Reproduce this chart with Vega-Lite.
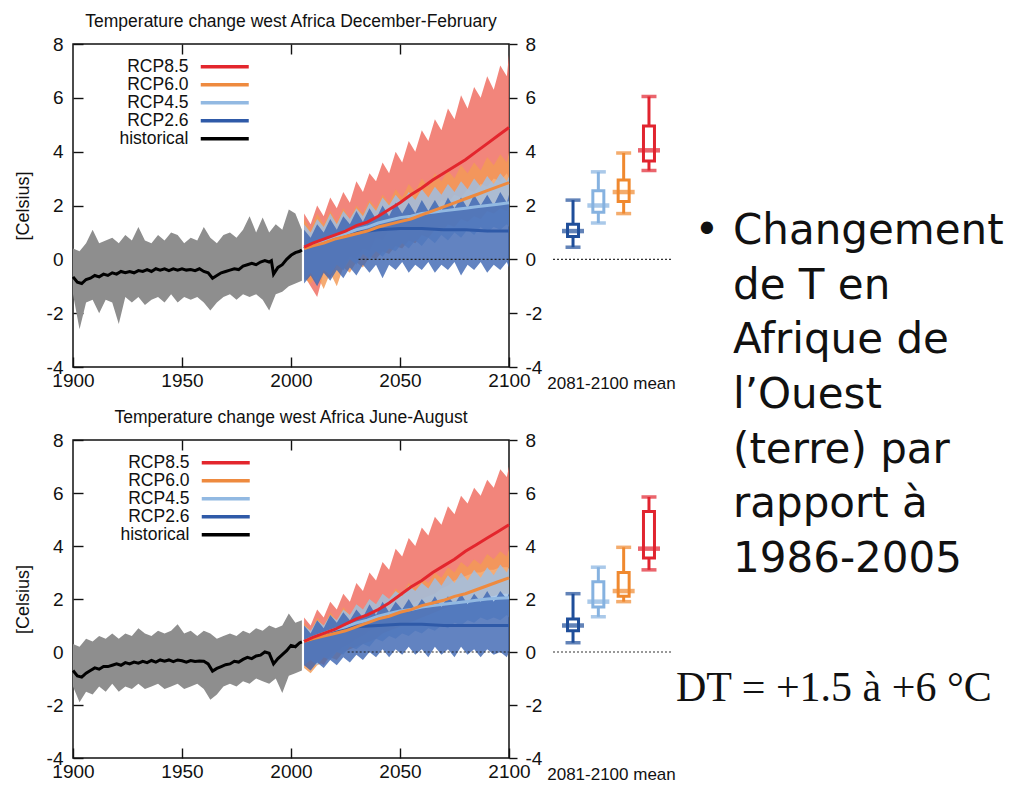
{
"$schema":"https://vega.github.io/schema/vega-lite/v6.json",
"background":"white",
"padding":{"left":13,"top":11,"right":0,"bottom":0},
"spacing":0,
"config":{
 "locale":{"number":{"decimal":".","thousands":",","grouping":[3],"currency":["$",""],"minus":"-"}},
 "view":{"stroke":"#111","strokeWidth":1.5},
 "axis":{"labelFont":"Liberation Sans","labelFontSize":19,"labelColor":"#111","titleFont":"Liberation Sans","titleFontSize":18,"titleFontWeight":"normal","titleColor":"#111","tickColor":"#111","tickWidth":1.4,"grid":false,"domain":false},
 "title":{"font":"Liberation Sans","fontSize":17.5,"fontWeight":"normal","color":"#111","offset":5,"anchor":"middle"}
},
"datasets":{
 "histD":[
  {"x":1900,"l":-1.3,"h":0.4},{"x":1903,"l":-2.6,"h":0.3},{"x":1906,"l":-1.6,"h":0.6},{"x":1909,"l":-1.5,"h":1.1},{"x":1912,"l":-2.0,"h":0.6},{"x":1915,"l":-1.5,"h":0.7},{"x":1918,"l":-1.6,"h":0.8},{"x":1921,"l":-2.4,"h":0.6},{"x":1924,"l":-1.4,"h":0.9},{"x":1927,"l":-1.6,"h":0.7},{"x":1930,"l":-1.4,"h":1.2},{"x":1933,"l":-1.7,"h":0.7},{"x":1936,"l":-1.5,"h":0.6},{"x":1939,"l":-1.4,"h":0.9},{"x":1942,"l":-1.6,"h":0.7},{"x":1945,"l":-1.3,"h":1.0},{"x":1948,"l":-1.6,"h":0.9},{"x":1951,"l":-1.4,"h":0.6},{"x":1954,"l":-1.5,"h":0.8},{"x":1957,"l":-1.4,"h":0.7},{"x":1960,"l":-1.6,"h":1.2},{"x":1963,"l":-1.9,"h":0.8},{"x":1966,"l":-1.6,"h":0.6},{"x":1969,"l":-1.4,"h":0.9},{"x":1972,"l":-1.3,"h":1.0},{"x":1975,"l":-1.5,"h":0.8},{"x":1978,"l":-1.3,"h":1.1},{"x":1981,"l":-1.4,"h":1.6},{"x":1984,"l":-1.3,"h":1.0},{"x":1987,"l":-1.5,"h":1.55},{"x":1990,"l":-1.9,"h":1.0},{"x":1993,"l":-1.3,"h":1.3},{"x":1996,"l":-1.2,"h":1.1},{"x":1999,"l":-1.0,"h":1.85},{"x":2002,"l":-0.9,"h":1.7},{"x":2005,"l":-0.8,"h":1.1}
 ],
 "histJ":[
  {"x":1900,"l":-1.3,"h":0.3},{"x":1903,"l":-1.9,"h":0.2},{"x":1906,"l":-1.5,"h":0.5},{"x":1909,"l":-1.6,"h":0.4},{"x":1912,"l":-1.3,"h":0.6},{"x":1915,"l":-1.5,"h":0.5},{"x":1918,"l":-1.2,"h":0.7},{"x":1921,"l":-1.5,"h":0.5},{"x":1924,"l":-1.3,"h":0.7},{"x":1927,"l":-1.4,"h":0.6},{"x":1930,"l":-1.2,"h":0.9},{"x":1933,"l":-1.4,"h":0.7},{"x":1936,"l":-1.3,"h":0.6},{"x":1939,"l":-1.2,"h":0.8},{"x":1942,"l":-1.4,"h":0.7},{"x":1945,"l":-1.3,"h":0.8},{"x":1948,"l":-1.2,"h":1.05},{"x":1951,"l":-1.4,"h":0.7},{"x":1954,"l":-1.3,"h":0.8},{"x":1957,"l":-1.2,"h":0.6},{"x":1960,"l":-1.4,"h":0.8},{"x":1963,"l":-1.8,"h":0.7},{"x":1966,"l":-1.6,"h":0.5},{"x":1969,"l":-1.3,"h":0.6},{"x":1972,"l":-1.2,"h":0.7},{"x":1975,"l":-1.3,"h":0.6},{"x":1978,"l":-1.1,"h":0.8},{"x":1981,"l":-1.2,"h":0.7},{"x":1984,"l":-1.0,"h":0.9},{"x":1987,"l":-1.1,"h":0.8},{"x":1990,"l":-1.2,"h":1.0},{"x":1993,"l":-1.0,"h":0.9},{"x":1996,"l":-1.55,"h":1.0},{"x":1999,"l":-0.9,"h":1.45},{"x":2002,"l":-0.8,"h":1.1},{"x":2005,"l":-0.7,"h":1.2}
 ],
 "bandD":[
  {"s":"RCP8.5","x":2006,"l":-0.6,"h":1.7},{"s":"RCP8.5","x":2009,"l":-1.0,"h":1.3},{"s":"RCP8.5","x":2012,"l":-1.4,"h":2.0},{"s":"RCP8.5","x":2015,"l":-0.5,"h":1.6},{"s":"RCP8.5","x":2018,"l":-0.7,"h":2.3},{"s":"RCP8.5","x":2021,"l":-0.2,"h":1.9},{"s":"RCP8.5","x":2024,"l":-0.4,"h":2.5},{"s":"RCP8.5","x":2027,"l":0.1,"h":2.1},{"s":"RCP8.5","x":2030,"l":0.0,"h":2.9},{"s":"RCP8.5","x":2033,"l":0.4,"h":2.5},{"s":"RCP8.5","x":2036,"l":0.3,"h":3.2},{"s":"RCP8.5","x":2039,"l":0.8,"h":2.9},{"s":"RCP8.5","x":2042,"l":0.7,"h":3.6},{"s":"RCP8.5","x":2045,"l":1.1,"h":3.2},{"s":"RCP8.5","x":2048,"l":1.0,"h":4.0},{"s":"RCP8.5","x":2051,"l":1.4,"h":3.6},{"s":"RCP8.5","x":2054,"l":1.3,"h":4.4},{"s":"RCP8.5","x":2057,"l":1.7,"h":4.0},{"s":"RCP8.5","x":2060,"l":1.6,"h":4.8},{"s":"RCP8.5","x":2063,"l":1.9,"h":4.4},{"s":"RCP8.5","x":2066,"l":1.8,"h":5.2},{"s":"RCP8.5","x":2069,"l":2.2,"h":4.8},{"s":"RCP8.5","x":2072,"l":2.1,"h":5.6},{"s":"RCP8.5","x":2075,"l":2.4,"h":5.2},{"s":"RCP8.5","x":2078,"l":2.3,"h":6.1},{"s":"RCP8.5","x":2081,"l":2.6,"h":5.6},{"s":"RCP8.5","x":2084,"l":2.5,"h":6.4},{"s":"RCP8.5","x":2087,"l":2.8,"h":6.0},{"s":"RCP8.5","x":2090,"l":2.7,"h":6.8},{"s":"RCP8.5","x":2093,"l":3.0,"h":6.3},{"s":"RCP8.5","x":2096,"l":2.9,"h":7.2},{"s":"RCP8.5","x":2099,"l":3.2,"h":6.8},{"s":"RCP8.5","x":2100,"l":3.0,"h":7.6},
  {"s":"RCP6.0","x":2006,"l":-0.7,"h":1.5},{"s":"RCP6.0","x":2009,"l":-0.9,"h":1.1},{"s":"RCP6.0","x":2012,"l":-0.6,"h":1.7},{"s":"RCP6.0","x":2015,"l":-1.1,"h":1.3},{"s":"RCP6.0","x":2018,"l":-0.5,"h":1.8},{"s":"RCP6.0","x":2021,"l":-1.0,"h":1.4},{"s":"RCP6.0","x":2024,"l":-0.3,"h":1.9},{"s":"RCP6.0","x":2027,"l":-0.5,"h":1.5},{"s":"RCP6.0","x":2030,"l":-0.1,"h":2.0},{"s":"RCP6.0","x":2033,"l":-0.3,"h":1.7},{"s":"RCP6.0","x":2036,"l":0.1,"h":2.2},{"s":"RCP6.0","x":2039,"l":0.0,"h":1.9},{"s":"RCP6.0","x":2042,"l":0.3,"h":2.4},{"s":"RCP6.0","x":2045,"l":0.2,"h":2.1},{"s":"RCP6.0","x":2048,"l":0.5,"h":2.6},{"s":"RCP6.0","x":2051,"l":0.4,"h":2.3},{"s":"RCP6.0","x":2054,"l":0.7,"h":2.8},{"s":"RCP6.0","x":2057,"l":0.6,"h":2.5},{"s":"RCP6.0","x":2060,"l":0.9,"h":3.0},{"s":"RCP6.0","x":2063,"l":0.8,"h":2.7},{"s":"RCP6.0","x":2066,"l":1.1,"h":3.2},{"s":"RCP6.0","x":2069,"l":1.0,"h":2.9},{"s":"RCP6.0","x":2072,"l":1.3,"h":3.3},{"s":"RCP6.0","x":2075,"l":1.2,"h":3.0},{"s":"RCP6.0","x":2078,"l":1.5,"h":3.5},{"s":"RCP6.0","x":2081,"l":1.4,"h":3.2},{"s":"RCP6.0","x":2084,"l":1.6,"h":3.6},{"s":"RCP6.0","x":2087,"l":1.5,"h":3.3},{"s":"RCP6.0","x":2090,"l":1.8,"h":3.8},{"s":"RCP6.0","x":2093,"l":1.7,"h":3.5},{"s":"RCP6.0","x":2096,"l":1.9,"h":3.9},{"s":"RCP6.0","x":2099,"l":1.8,"h":3.6},{"s":"RCP6.0","x":2100,"l":2.0,"h":4.0},
  {"s":"RCP4.5","x":2006,"l":-0.8,"h":1.3},{"s":"RCP4.5","x":2009,"l":-0.5,"h":1.0},{"s":"RCP4.5","x":2012,"l":-0.9,"h":1.5},{"s":"RCP4.5","x":2015,"l":-0.4,"h":1.2},{"s":"RCP4.5","x":2018,"l":-0.6,"h":1.7},{"s":"RCP4.5","x":2021,"l":-0.2,"h":1.3},{"s":"RCP4.5","x":2024,"l":-0.4,"h":1.8},{"s":"RCP4.5","x":2027,"l":0.0,"h":1.5},{"s":"RCP4.5","x":2030,"l":-0.2,"h":1.9},{"s":"RCP4.5","x":2033,"l":0.2,"h":1.6},{"s":"RCP4.5","x":2036,"l":0.0,"h":2.1},{"s":"RCP4.5","x":2039,"l":0.3,"h":1.8},{"s":"RCP4.5","x":2042,"l":0.1,"h":2.3},{"s":"RCP4.5","x":2045,"l":0.4,"h":2.0},{"s":"RCP4.5","x":2048,"l":0.3,"h":2.4},{"s":"RCP4.5","x":2051,"l":0.6,"h":2.1},{"s":"RCP4.5","x":2054,"l":0.4,"h":2.5},{"s":"RCP4.5","x":2057,"l":0.7,"h":2.2},{"s":"RCP4.5","x":2060,"l":0.5,"h":2.6},{"s":"RCP4.5","x":2063,"l":0.8,"h":2.3},{"s":"RCP4.5","x":2066,"l":0.6,"h":2.7},{"s":"RCP4.5","x":2069,"l":0.9,"h":2.4},{"s":"RCP4.5","x":2072,"l":0.7,"h":2.8},{"s":"RCP4.5","x":2075,"l":1.0,"h":2.5},{"s":"RCP4.5","x":2078,"l":0.8,"h":2.9},{"s":"RCP4.5","x":2081,"l":1.1,"h":2.6},{"s":"RCP4.5","x":2084,"l":0.9,"h":3.0},{"s":"RCP4.5","x":2087,"l":1.2,"h":2.7},{"s":"RCP4.5","x":2090,"l":1.0,"h":3.1},{"s":"RCP4.5","x":2093,"l":1.2,"h":2.8},{"s":"RCP4.5","x":2096,"l":1.1,"h":3.2},{"s":"RCP4.5","x":2099,"l":1.3,"h":2.9},{"s":"RCP4.5","x":2100,"l":1.2,"h":3.1},
  {"s":"RCP2.6","x":2006,"l":-0.9,"h":1.1},{"s":"RCP2.6","x":2009,"l":-0.6,"h":0.8},{"s":"RCP2.6","x":2012,"l":-1.0,"h":1.3},{"s":"RCP2.6","x":2015,"l":-0.5,"h":1.0},{"s":"RCP2.6","x":2018,"l":-0.8,"h":1.5},{"s":"RCP2.6","x":2021,"l":-0.4,"h":1.1},{"s":"RCP2.6","x":2024,"l":-0.7,"h":1.6},{"s":"RCP2.6","x":2027,"l":-0.3,"h":1.3},{"s":"RCP2.6","x":2030,"l":-0.6,"h":1.8},{"s":"RCP2.6","x":2033,"l":-0.2,"h":1.4},{"s":"RCP2.6","x":2036,"l":-0.5,"h":1.9},{"s":"RCP2.6","x":2039,"l":-0.2,"h":1.5},{"s":"RCP2.6","x":2042,"l":-0.7,"h":2.0},{"s":"RCP2.6","x":2045,"l":-0.2,"h":1.6},{"s":"RCP2.6","x":2048,"l":-0.4,"h":2.1},{"s":"RCP2.6","x":2051,"l":-0.1,"h":1.7},{"s":"RCP2.6","x":2054,"l":-0.5,"h":2.1},{"s":"RCP2.6","x":2057,"l":-0.2,"h":1.7},{"s":"RCP2.6","x":2060,"l":-0.4,"h":2.2},{"s":"RCP2.6","x":2063,"l":-0.1,"h":1.8},{"s":"RCP2.6","x":2066,"l":-0.5,"h":2.2},{"s":"RCP2.6","x":2069,"l":-0.2,"h":1.8},{"s":"RCP2.6","x":2072,"l":-0.4,"h":2.3},{"s":"RCP2.6","x":2075,"l":-0.1,"h":1.9},{"s":"RCP2.6","x":2078,"l":-0.6,"h":2.3},{"s":"RCP2.6","x":2081,"l":-0.2,"h":1.9},{"s":"RCP2.6","x":2084,"l":-0.4,"h":2.4},{"s":"RCP2.6","x":2087,"l":-0.1,"h":2.0},{"s":"RCP2.6","x":2090,"l":-0.5,"h":2.4},{"s":"RCP2.6","x":2093,"l":-0.2,"h":2.0},{"s":"RCP2.6","x":2096,"l":-0.4,"h":2.5},{"s":"RCP2.6","x":2099,"l":-0.1,"h":2.1},{"s":"RCP2.6","x":2100,"l":-0.3,"h":2.4}
 ],
 "bandJ":[
  {"s":"RCP8.5","x":2006,"l":-0.5,"h":1.3},{"s":"RCP8.5","x":2009,"l":-0.7,"h":1.0},{"s":"RCP8.5","x":2012,"l":-0.3,"h":1.6},{"s":"RCP8.5","x":2015,"l":-0.5,"h":1.3},{"s":"RCP8.5","x":2018,"l":-0.1,"h":1.9},{"s":"RCP8.5","x":2021,"l":0.0,"h":1.6},{"s":"RCP8.5","x":2024,"l":0.2,"h":2.2},{"s":"RCP8.5","x":2027,"l":0.3,"h":1.9},{"s":"RCP8.5","x":2030,"l":0.5,"h":2.6},{"s":"RCP8.5","x":2033,"l":0.6,"h":2.3},{"s":"RCP8.5","x":2036,"l":0.8,"h":3.0},{"s":"RCP8.5","x":2039,"l":0.9,"h":2.7},{"s":"RCP8.5","x":2042,"l":1.2,"h":3.4},{"s":"RCP8.5","x":2045,"l":1.3,"h":3.1},{"s":"RCP8.5","x":2048,"l":1.5,"h":3.9},{"s":"RCP8.5","x":2051,"l":1.7,"h":3.6},{"s":"RCP8.5","x":2054,"l":1.8,"h":4.3},{"s":"RCP8.5","x":2057,"l":1.9,"h":4.0},{"s":"RCP8.5","x":2060,"l":2.0,"h":4.7},{"s":"RCP8.5","x":2063,"l":2.1,"h":4.4},{"s":"RCP8.5","x":2066,"l":2.2,"h":5.1},{"s":"RCP8.5","x":2069,"l":2.4,"h":4.8},{"s":"RCP8.5","x":2072,"l":2.5,"h":5.5},{"s":"RCP8.5","x":2075,"l":2.7,"h":5.2},{"s":"RCP8.5","x":2078,"l":2.8,"h":5.9},{"s":"RCP8.5","x":2081,"l":2.9,"h":5.6},{"s":"RCP8.5","x":2084,"l":3.0,"h":6.2},{"s":"RCP8.5","x":2087,"l":3.0,"h":5.9},{"s":"RCP8.5","x":2090,"l":3.1,"h":6.5},{"s":"RCP8.5","x":2093,"l":3.1,"h":6.2},{"s":"RCP8.5","x":2096,"l":3.2,"h":6.9},{"s":"RCP8.5","x":2099,"l":3.2,"h":6.6},{"s":"RCP8.5","x":2100,"l":3.2,"h":7.0},
  {"s":"RCP6.0","x":2006,"l":-0.6,"h":1.1},{"s":"RCP6.0","x":2009,"l":-0.8,"h":0.8},{"s":"RCP6.0","x":2012,"l":-0.5,"h":1.3},{"s":"RCP6.0","x":2015,"l":-0.4,"h":1.0},{"s":"RCP6.0","x":2018,"l":-0.2,"h":1.5},{"s":"RCP6.0","x":2021,"l":-0.3,"h":1.2},{"s":"RCP6.0","x":2024,"l":0.0,"h":1.7},{"s":"RCP6.0","x":2027,"l":0.1,"h":1.4},{"s":"RCP6.0","x":2030,"l":0.2,"h":1.8},{"s":"RCP6.0","x":2033,"l":0.3,"h":1.6},{"s":"RCP6.0","x":2036,"l":0.4,"h":2.0},{"s":"RCP6.0","x":2039,"l":0.5,"h":1.8},{"s":"RCP6.0","x":2042,"l":0.7,"h":2.2},{"s":"RCP6.0","x":2045,"l":0.8,"h":2.0},{"s":"RCP6.0","x":2048,"l":0.9,"h":2.4},{"s":"RCP6.0","x":2051,"l":1.0,"h":2.2},{"s":"RCP6.0","x":2054,"l":1.1,"h":2.6},{"s":"RCP6.0","x":2057,"l":1.2,"h":2.4},{"s":"RCP6.0","x":2060,"l":1.3,"h":2.8},{"s":"RCP6.0","x":2063,"l":1.4,"h":2.6},{"s":"RCP6.0","x":2066,"l":1.5,"h":3.0},{"s":"RCP6.0","x":2069,"l":1.6,"h":2.8},{"s":"RCP6.0","x":2072,"l":1.7,"h":3.2},{"s":"RCP6.0","x":2075,"l":1.8,"h":3.0},{"s":"RCP6.0","x":2078,"l":1.8,"h":3.4},{"s":"RCP6.0","x":2081,"l":1.9,"h":3.2},{"s":"RCP6.0","x":2084,"l":2.0,"h":3.5},{"s":"RCP6.0","x":2087,"l":2.0,"h":3.3},{"s":"RCP6.0","x":2090,"l":2.1,"h":3.7},{"s":"RCP6.0","x":2093,"l":2.1,"h":3.5},{"s":"RCP6.0","x":2096,"l":2.2,"h":3.8},{"s":"RCP6.0","x":2099,"l":2.2,"h":3.6},{"s":"RCP6.0","x":2100,"l":2.2,"h":3.9},
  {"s":"RCP4.5","x":2006,"l":-0.5,"h":1.0},{"s":"RCP4.5","x":2009,"l":-0.3,"h":0.8},{"s":"RCP4.5","x":2012,"l":-0.5,"h":1.2},{"s":"RCP4.5","x":2015,"l":-0.2,"h":1.0},{"s":"RCP4.5","x":2018,"l":-0.3,"h":1.4},{"s":"RCP4.5","x":2021,"l":0.0,"h":1.2},{"s":"RCP4.5","x":2024,"l":-0.1,"h":1.6},{"s":"RCP4.5","x":2027,"l":0.2,"h":1.4},{"s":"RCP4.5","x":2030,"l":0.1,"h":1.8},{"s":"RCP4.5","x":2033,"l":0.3,"h":1.6},{"s":"RCP4.5","x":2036,"l":0.2,"h":2.0},{"s":"RCP4.5","x":2039,"l":0.5,"h":1.8},{"s":"RCP4.5","x":2042,"l":0.4,"h":2.2},{"s":"RCP4.5","x":2045,"l":0.6,"h":2.0},{"s":"RCP4.5","x":2048,"l":0.5,"h":2.3},{"s":"RCP4.5","x":2051,"l":0.7,"h":2.1},{"s":"RCP4.5","x":2054,"l":0.6,"h":2.5},{"s":"RCP4.5","x":2057,"l":0.8,"h":2.3},{"s":"RCP4.5","x":2060,"l":0.7,"h":2.6},{"s":"RCP4.5","x":2063,"l":0.9,"h":2.4},{"s":"RCP4.5","x":2066,"l":0.8,"h":2.8},{"s":"RCP4.5","x":2069,"l":1.0,"h":2.5},{"s":"RCP4.5","x":2072,"l":0.9,"h":2.9},{"s":"RCP4.5","x":2075,"l":1.1,"h":2.6},{"s":"RCP4.5","x":2078,"l":1.0,"h":3.0},{"s":"RCP4.5","x":2081,"l":1.2,"h":2.7},{"s":"RCP4.5","x":2084,"l":1.1,"h":3.1},{"s":"RCP4.5","x":2087,"l":1.3,"h":2.8},{"s":"RCP4.5","x":2090,"l":1.2,"h":3.2},{"s":"RCP4.5","x":2093,"l":1.3,"h":2.9},{"s":"RCP4.5","x":2096,"l":1.2,"h":3.3},{"s":"RCP4.5","x":2099,"l":1.4,"h":3.0},{"s":"RCP4.5","x":2100,"l":1.3,"h":3.2},
  {"s":"RCP2.6","x":2006,"l":-0.5,"h":1.0},{"s":"RCP2.6","x":2009,"l":-0.7,"h":0.7},{"s":"RCP2.6","x":2012,"l":-0.4,"h":1.2},{"s":"RCP2.6","x":2015,"l":-0.6,"h":0.9},{"s":"RCP2.6","x":2018,"l":-0.3,"h":1.4},{"s":"RCP2.6","x":2021,"l":-0.5,"h":1.1},{"s":"RCP2.6","x":2024,"l":-0.2,"h":1.5},{"s":"RCP2.6","x":2027,"l":-0.4,"h":1.2},{"s":"RCP2.6","x":2030,"l":-0.1,"h":1.6},{"s":"RCP2.6","x":2033,"l":-0.3,"h":1.3},{"s":"RCP2.6","x":2036,"l":0.0,"h":1.8},{"s":"RCP2.6","x":2039,"l":-0.2,"h":1.4},{"s":"RCP2.6","x":2042,"l":0.1,"h":1.9},{"s":"RCP2.6","x":2045,"l":-0.2,"h":1.5},{"s":"RCP2.6","x":2048,"l":0.1,"h":1.9},{"s":"RCP2.6","x":2051,"l":-0.1,"h":1.6},{"s":"RCP2.6","x":2054,"l":0.2,"h":2.0},{"s":"RCP2.6","x":2057,"l":-0.1,"h":1.6},{"s":"RCP2.6","x":2060,"l":0.1,"h":2.0},{"s":"RCP2.6","x":2063,"l":-0.2,"h":1.7},{"s":"RCP2.6","x":2066,"l":0.2,"h":2.1},{"s":"RCP2.6","x":2069,"l":-0.1,"h":1.7},{"s":"RCP2.6","x":2072,"l":0.1,"h":2.1},{"s":"RCP2.6","x":2075,"l":-0.2,"h":1.8},{"s":"RCP2.6","x":2078,"l":0.2,"h":2.2},{"s":"RCP2.6","x":2081,"l":-0.1,"h":1.8},{"s":"RCP2.6","x":2084,"l":0.1,"h":2.2},{"s":"RCP2.6","x":2087,"l":-0.2,"h":1.9},{"s":"RCP2.6","x":2090,"l":0.1,"h":2.3},{"s":"RCP2.6","x":2093,"l":-0.1,"h":1.9},{"s":"RCP2.6","x":2096,"l":0.0,"h":2.3},{"s":"RCP2.6","x":2099,"l":-0.2,"h":2.0},{"s":"RCP2.6","x":2100,"l":0.0,"h":2.2}
 ],
 "meanD":[
  {"s":"historical","x":1900,"y":-0.65},{"s":"historical","x":1902,"y":-0.85},{"s":"historical","x":1904,"y":-0.9},{"s":"historical","x":1906,"y":-0.75},{"s":"historical","x":1908,"y":-0.7},{"s":"historical","x":1910,"y":-0.6},{"s":"historical","x":1912,"y":-0.65},{"s":"historical","x":1914,"y":-0.55},{"s":"historical","x":1916,"y":-0.6},{"s":"historical","x":1918,"y":-0.5},{"s":"historical","x":1920,"y":-0.55},{"s":"historical","x":1922,"y":-0.45},{"s":"historical","x":1924,"y":-0.5},{"s":"historical","x":1926,"y":-0.45},{"s":"historical","x":1928,"y":-0.5},{"s":"historical","x":1930,"y":-0.42},{"s":"historical","x":1932,"y":-0.45},{"s":"historical","x":1934,"y":-0.38},{"s":"historical","x":1936,"y":-0.45},{"s":"historical","x":1938,"y":-0.35},{"s":"historical","x":1940,"y":-0.4},{"s":"historical","x":1942,"y":-0.35},{"s":"historical","x":1944,"y":-0.42},{"s":"historical","x":1946,"y":-0.35},{"s":"historical","x":1948,"y":-0.4},{"s":"historical","x":1950,"y":-0.35},{"s":"historical","x":1952,"y":-0.4},{"s":"historical","x":1954,"y":-0.38},{"s":"historical","x":1956,"y":-0.42},{"s":"historical","x":1958,"y":-0.35},{"s":"historical","x":1960,"y":-0.45},{"s":"historical","x":1962,"y":-0.5},{"s":"historical","x":1964,"y":-0.7},{"s":"historical","x":1966,"y":-0.6},{"s":"historical","x":1968,"y":-0.5},{"s":"historical","x":1970,"y":-0.45},{"s":"historical","x":1972,"y":-0.4},{"s":"historical","x":1974,"y":-0.35},{"s":"historical","x":1976,"y":-0.38},{"s":"historical","x":1978,"y":-0.25},{"s":"historical","x":1980,"y":-0.2},{"s":"historical","x":1982,"y":-0.15},{"s":"historical","x":1984,"y":-0.2},{"s":"historical","x":1986,"y":-0.1},{"s":"historical","x":1988,"y":-0.05},{"s":"historical","x":1990,"y":-0.1},{"s":"historical","x":1991,"y":-0.05},{"s":"historical","x":1992,"y":-0.55},{"s":"historical","x":1994,"y":-0.3},{"s":"historical","x":1996,"y":-0.2},{"s":"historical","x":1998,"y":0.0},{"s":"historical","x":2000,"y":0.15},{"s":"historical","x":2002,"y":0.25},{"s":"historical","x":2004,"y":0.3},{"s":"historical","x":2005,"y":0.35},
  {"s":"RCP2.6","x":2006,"y":0.4},{"s":"RCP2.6","x":2010,"y":0.55},{"s":"RCP2.6","x":2015,"y":0.7},{"s":"RCP2.6","x":2020,"y":0.85},{"s":"RCP2.6","x":2025,"y":0.95},{"s":"RCP2.6","x":2030,"y":1.0},{"s":"RCP2.6","x":2040,"y":1.1},{"s":"RCP2.6","x":2050,"y":1.15},{"s":"RCP2.6","x":2060,"y":1.15},{"s":"RCP2.6","x":2070,"y":1.1},{"s":"RCP2.6","x":2080,"y":1.1},{"s":"RCP2.6","x":2090,"y":1.05},{"s":"RCP2.6","x":2100,"y":1.05},
  {"s":"RCP4.5","x":2006,"y":0.4},{"s":"RCP4.5","x":2010,"y":0.55},{"s":"RCP4.5","x":2015,"y":0.7},{"s":"RCP4.5","x":2020,"y":0.85},{"s":"RCP4.5","x":2025,"y":0.95},{"s":"RCP4.5","x":2030,"y":1.1},{"s":"RCP4.5","x":2035,"y":1.2},{"s":"RCP4.5","x":2040,"y":1.35},{"s":"RCP4.5","x":2045,"y":1.45},{"s":"RCP4.5","x":2050,"y":1.55},{"s":"RCP4.5","x":2055,"y":1.6},{"s":"RCP4.5","x":2060,"y":1.7},{"s":"RCP4.5","x":2065,"y":1.75},{"s":"RCP4.5","x":2070,"y":1.8},{"s":"RCP4.5","x":2075,"y":1.85},{"s":"RCP4.5","x":2080,"y":1.9},{"s":"RCP4.5","x":2085,"y":1.95},{"s":"RCP4.5","x":2090,"y":2.0},{"s":"RCP4.5","x":2095,"y":2.05},{"s":"RCP4.5","x":2100,"y":2.1},
  {"s":"RCP6.0","x":2006,"y":0.4},{"s":"RCP6.0","x":2010,"y":0.5},{"s":"RCP6.0","x":2015,"y":0.6},{"s":"RCP6.0","x":2020,"y":0.75},{"s":"RCP6.0","x":2025,"y":0.85},{"s":"RCP6.0","x":2030,"y":0.95},{"s":"RCP6.0","x":2035,"y":1.05},{"s":"RCP6.0","x":2040,"y":1.2},{"s":"RCP6.0","x":2045,"y":1.3},{"s":"RCP6.0","x":2050,"y":1.4},{"s":"RCP6.0","x":2055,"y":1.5},{"s":"RCP6.0","x":2060,"y":1.65},{"s":"RCP6.0","x":2065,"y":1.8},{"s":"RCP6.0","x":2070,"y":1.95},{"s":"RCP6.0","x":2075,"y":2.1},{"s":"RCP6.0","x":2080,"y":2.25},{"s":"RCP6.0","x":2085,"y":2.4},{"s":"RCP6.0","x":2090,"y":2.55},{"s":"RCP6.0","x":2095,"y":2.7},{"s":"RCP6.0","x":2100,"y":2.85},
  {"s":"RCP8.5","x":2006,"y":0.45},{"s":"RCP8.5","x":2010,"y":0.6},{"s":"RCP8.5","x":2015,"y":0.75},{"s":"RCP8.5","x":2020,"y":0.9},{"s":"RCP8.5","x":2025,"y":1.05},{"s":"RCP8.5","x":2030,"y":1.25},{"s":"RCP8.5","x":2035,"y":1.38},{"s":"RCP8.5","x":2040,"y":1.6},{"s":"RCP8.5","x":2045,"y":1.85},{"s":"RCP8.5","x":2050,"y":2.1},{"s":"RCP8.5","x":2055,"y":2.4},{"s":"RCP8.5","x":2060,"y":2.65},{"s":"RCP8.5","x":2065,"y":2.95},{"s":"RCP8.5","x":2070,"y":3.2},{"s":"RCP8.5","x":2075,"y":3.45},{"s":"RCP8.5","x":2080,"y":3.7},{"s":"RCP8.5","x":2085,"y":4.0},{"s":"RCP8.5","x":2090,"y":4.3},{"s":"RCP8.5","x":2095,"y":4.6},{"s":"RCP8.5","x":2100,"y":4.9}
 ],
 "meanJ":[
  {"s":"historical","x":1900,"y":-0.7},{"s":"historical","x":1902,"y":-0.9},{"s":"historical","x":1904,"y":-0.95},{"s":"historical","x":1906,"y":-0.8},{"s":"historical","x":1908,"y":-0.7},{"s":"historical","x":1910,"y":-0.6},{"s":"historical","x":1912,"y":-0.65},{"s":"historical","x":1914,"y":-0.55},{"s":"historical","x":1916,"y":-0.55},{"s":"historical","x":1918,"y":-0.5},{"s":"historical","x":1920,"y":-0.45},{"s":"historical","x":1922,"y":-0.5},{"s":"historical","x":1924,"y":-0.4},{"s":"historical","x":1926,"y":-0.45},{"s":"historical","x":1928,"y":-0.38},{"s":"historical","x":1930,"y":-0.42},{"s":"historical","x":1932,"y":-0.35},{"s":"historical","x":1934,"y":-0.4},{"s":"historical","x":1936,"y":-0.32},{"s":"historical","x":1938,"y":-0.38},{"s":"historical","x":1940,"y":-0.3},{"s":"historical","x":1942,"y":-0.35},{"s":"historical","x":1944,"y":-0.3},{"s":"historical","x":1946,"y":-0.36},{"s":"historical","x":1948,"y":-0.3},{"s":"historical","x":1950,"y":-0.33},{"s":"historical","x":1952,"y":-0.38},{"s":"historical","x":1954,"y":-0.32},{"s":"historical","x":1956,"y":-0.36},{"s":"historical","x":1958,"y":-0.34},{"s":"historical","x":1960,"y":-0.35},{"s":"historical","x":1962,"y":-0.45},{"s":"historical","x":1964,"y":-0.72},{"s":"historical","x":1966,"y":-0.62},{"s":"historical","x":1968,"y":-0.55},{"s":"historical","x":1970,"y":-0.48},{"s":"historical","x":1972,"y":-0.45},{"s":"historical","x":1974,"y":-0.35},{"s":"historical","x":1976,"y":-0.38},{"s":"historical","x":1978,"y":-0.28},{"s":"historical","x":1980,"y":-0.2},{"s":"historical","x":1982,"y":-0.25},{"s":"historical","x":1984,"y":-0.15},{"s":"historical","x":1986,"y":-0.12},{"s":"historical","x":1988,"y":0.0},{"s":"historical","x":1990,"y":-0.05},{"s":"historical","x":1992,"y":-0.45},{"s":"historical","x":1994,"y":-0.25},{"s":"historical","x":1996,"y":-0.1},{"s":"historical","x":1998,"y":0.05},{"s":"historical","x":2000,"y":0.25},{"s":"historical","x":2002,"y":0.2},{"s":"historical","x":2004,"y":0.35},{"s":"historical","x":2005,"y":0.38},
  {"s":"RCP2.6","x":2006,"y":0.4},{"s":"RCP2.6","x":2010,"y":0.5},{"s":"RCP2.6","x":2015,"y":0.65},{"s":"RCP2.6","x":2020,"y":0.8},{"s":"RCP2.6","x":2025,"y":0.9},{"s":"RCP2.6","x":2030,"y":0.95},{"s":"RCP2.6","x":2040,"y":1.0},{"s":"RCP2.6","x":2050,"y":1.05},{"s":"RCP2.6","x":2060,"y":1.05},{"s":"RCP2.6","x":2070,"y":1.0},{"s":"RCP2.6","x":2080,"y":1.0},{"s":"RCP2.6","x":2090,"y":1.0},{"s":"RCP2.6","x":2100,"y":1.0},
  {"s":"RCP4.5","x":2006,"y":0.4},{"s":"RCP4.5","x":2010,"y":0.55},{"s":"RCP4.5","x":2015,"y":0.7},{"s":"RCP4.5","x":2020,"y":0.85},{"s":"RCP4.5","x":2025,"y":0.95},{"s":"RCP4.5","x":2030,"y":1.1},{"s":"RCP4.5","x":2035,"y":1.2},{"s":"RCP4.5","x":2040,"y":1.35},{"s":"RCP4.5","x":2045,"y":1.45},{"s":"RCP4.5","x":2050,"y":1.55},{"s":"RCP4.5","x":2055,"y":1.6},{"s":"RCP4.5","x":2060,"y":1.7},{"s":"RCP4.5","x":2065,"y":1.75},{"s":"RCP4.5","x":2070,"y":1.8},{"s":"RCP4.5","x":2075,"y":1.85},{"s":"RCP4.5","x":2080,"y":1.9},{"s":"RCP4.5","x":2085,"y":1.95},{"s":"RCP4.5","x":2090,"y":2.0},{"s":"RCP4.5","x":2095,"y":2.03},{"s":"RCP4.5","x":2100,"y":2.05},
  {"s":"RCP6.0","x":2006,"y":0.4},{"s":"RCP6.0","x":2010,"y":0.5},{"s":"RCP6.0","x":2015,"y":0.6},{"s":"RCP6.0","x":2020,"y":0.7},{"s":"RCP6.0","x":2025,"y":0.8},{"s":"RCP6.0","x":2030,"y":0.95},{"s":"RCP6.0","x":2035,"y":1.1},{"s":"RCP6.0","x":2040,"y":1.25},{"s":"RCP6.0","x":2045,"y":1.35},{"s":"RCP6.0","x":2050,"y":1.5},{"s":"RCP6.0","x":2055,"y":1.6},{"s":"RCP6.0","x":2060,"y":1.75},{"s":"RCP6.0","x":2065,"y":1.85},{"s":"RCP6.0","x":2070,"y":1.95},{"s":"RCP6.0","x":2075,"y":2.1},{"s":"RCP6.0","x":2080,"y":2.2},{"s":"RCP6.0","x":2085,"y":2.35},{"s":"RCP6.0","x":2090,"y":2.5},{"s":"RCP6.0","x":2095,"y":2.65},{"s":"RCP6.0","x":2100,"y":2.8},
  {"s":"RCP8.5","x":2006,"y":0.4},{"s":"RCP8.5","x":2010,"y":0.55},{"s":"RCP8.5","x":2015,"y":0.7},{"s":"RCP8.5","x":2020,"y":0.85},{"s":"RCP8.5","x":2025,"y":1.05},{"s":"RCP8.5","x":2030,"y":1.25},{"s":"RCP8.5","x":2035,"y":1.4},{"s":"RCP8.5","x":2040,"y":1.6},{"s":"RCP8.5","x":2045,"y":1.85},{"s":"RCP8.5","x":2050,"y":2.15},{"s":"RCP8.5","x":2055,"y":2.45},{"s":"RCP8.5","x":2060,"y":2.7},{"s":"RCP8.5","x":2065,"y":3.0},{"s":"RCP8.5","x":2070,"y":3.25},{"s":"RCP8.5","x":2075,"y":3.5},{"s":"RCP8.5","x":2080,"y":3.8},{"s":"RCP8.5","x":2085,"y":4.05},{"s":"RCP8.5","x":2090,"y":4.3},{"s":"RCP8.5","x":2095,"y":4.55},{"s":"RCP8.5","x":2100,"y":4.8}
 ],
 "boxD":[
  {"s":"RCP2.6","min":0.45,"q1":0.85,"med":1.05,"q3":1.3,"max":2.2},
  {"s":"RCP4.5","min":1.35,"q1":1.75,"med":2.0,"q3":2.55,"max":3.25},
  {"s":"RCP6.0","min":1.7,"q1":2.15,"med":2.5,"q3":2.95,"max":3.95},
  {"s":"RCP8.5","min":3.3,"q1":3.65,"med":4.05,"q3":4.95,"max":6.05}
 ],
 "boxJ":[
  {"s":"RCP2.6","min":0.35,"q1":0.8,"med":1.0,"q3":1.25,"max":2.2},
  {"s":"RCP4.5","min":1.33,"q1":1.7,"med":1.9,"q3":2.65,"max":3.2},
  {"s":"RCP6.0","min":1.9,"q1":2.1,"med":2.3,"q3":3.0,"max":3.95},
  {"s":"RCP8.5","min":3.1,"q1":3.55,"med":3.9,"q3":5.3,"max":5.85}
 ],
 "lines":[
  {"line":1,"t":"Changement"},{"line":2,"t":"de T en"},{"line":3,"t":"Afrique de"},{"line":4,"t":"l’Ouest"},{"line":5,"t":"(terre) par"},{"line":6,"t":"rapport à"},{"line":7,"t":"1986-2005"}
 ]
},
"hconcat":[
 {
  "spacing":16,
  "resolve":{"scale":{"x":"independent","y":"independent","stroke":"independent","fill":"independent","color":"independent"}},
  "vconcat":[
   {
    "spacing":3,
    "resolve":{"scale":{"x":"independent","y":"independent","stroke":"independent","fill":"independent","color":"independent"}},
    "hconcat":[
     {
      "width":436,"height":323,
      "title":{"text":"Temperature change west Africa December-February"},
      "resolve":{"axis":{"x":"independent","y":"independent"}},
      "layer":[
       {"data":{"name":"histD"},"mark":{"type":"area","color":"#8e8e8e"},
        "encoding":{
         "x":{"field":"x","type":"quantitative","scale":{"domain":[1900,2100],"nice":false,"zero":false},"axis":{"orient":"bottom","values":[1900,1950,2000,2050,2100],"format":"d","tickSize":-10,"labelPadding":14,"title":null,"labelFlush":false}},
         "y":{"field":"l","type":"quantitative","scale":{"domain":[-4,8],"nice":false,"zero":false},"axis":{"orient":"left","values":[-4,-2,0,2,4,6,8],"tickSize":-10,"labelPadding":20,"title":"[Celsius]","titlePadding":14}},
         "y2":{"field":"h"}}},
       {"data":{"name":"bandD"},"mark":{"type":"area","opacity":0.82},
        "encoding":{
         "x":{"field":"x","type":"quantitative","axis":null},
         "y":{"field":"l","type":"quantitative","axis":null},
         "y2":{"field":"h"},
         "fill":{"field":"s","type":"nominal","scale":{"domain":["RCP8.5","RCP6.0","RCP4.5","RCP2.6"],"range":["#ef6a5e","#f39a56","#9cc0e6","#3f68b3"]},"legend":null}}},
       {"data":{"values":[{}]},"mark":{"type":"rule","strokeDash":[2,2],"color":"#222","strokeWidth":1.2},
        "encoding":{
         "x":{"datum":2031,"type":"quantitative","axis":{"orient":"top","values":[1950,2000,2050],"labels":false,"tickSize":-10,"title":null}},
         "x2":{"datum":2100},
         "y":{"datum":0,"type":"quantitative","axis":{"orient":"right","values":[-4,-2,0,2,4,6,8],"tickSize":8,"labelPadding":8,"title":null}}}},
       {"data":{"name":"meanD"},"mark":{"type":"line","strokeWidth":3},
        "encoding":{
         "x":{"field":"x","type":"quantitative","axis":null},
         "y":{"field":"y","type":"quantitative","axis":null},
         "stroke":{"field":"s","type":"nominal","scale":{"domain":["RCP8.5","RCP6.0","RCP4.5","RCP2.6","historical"],"range":["#e3262d","#ee8a3f","#92b9e2","#2f5aa8","#000000"]},
          "legend":{"orient":"none","legendX":143,"legendY":14,"direction":"vertical","title":null,"symbolType":"M-4.8,0H4.8","symbolSize":100,"symbolStrokeWidth":3.5,"symbolOpacity":1,"labelAlign":"right","labelOffset":-45,"labelFont":"Liberation Sans","labelFontSize":17.5,"labelColor":"#111","rowPadding":-2.5}}}}
      ]
     },
     {
      "width":120,"height":323,
      "title":{"text":" "},
      "view":{"stroke":null},
      "layer":[
       {"data":{"values":[{}]},"mark":{"type":"rule","strokeDash":[2,2],"color":"#333","strokeWidth":1.2},
        "encoding":{"y":{"datum":0,"type":"quantitative","scale":{"domain":[-4,8],"nice":false,"zero":false},"axis":null}}},
       {"data":{"name":"boxD"},"mark":{"type":"rule","strokeWidth":3},
        "encoding":{
         "x":{"field":"s","type":"nominal","scale":{"type":"point","domain":["RCP2.6","RCP4.5","RCP6.0","RCP8.5"],"padding":0.87},"axis":{"labels":false,"ticks":false,"domain":false,"title":"2081-2100 mean","titlePadding":8,"titleFontSize":17}},
         "y":{"field":"q3","type":"quantitative","axis":null},"y2":{"field":"max"},
         "color":{"field":"s","type":"nominal","scale":{"domain":["RCP2.6","RCP4.5","RCP6.0","RCP8.5"],"range":["#1f4e9a","#86b2e0","#f0892f","#e1242f"]},"legend":null}}},
       {"data":{"name":"boxD"},"mark":{"type":"rule","strokeWidth":3},
        "encoding":{"x":{"field":"s","type":"nominal"},"y":{"field":"min","type":"quantitative"},"y2":{"field":"q1"},"color":{"field":"s","type":"nominal","legend":null}}},
       {"data":{"name":"boxD"},"mark":{"type":"bar","filled":false,"strokeWidth":3,"width":11},
        "encoding":{"x":{"field":"s","type":"nominal"},"y":{"field":"q1","type":"quantitative"},"y2":{"field":"q3"},"color":{"field":"s","type":"nominal","legend":null}}},
       {"data":{"name":"boxD"},"mark":{"type":"tick","thickness":3.5,"size":15},
        "encoding":{"x":{"field":"s","type":"nominal"},"y":{"field":"max","type":"quantitative"},"color":{"field":"s","type":"nominal","legend":null}}},
       {"data":{"name":"boxD"},"mark":{"type":"tick","thickness":3.5,"size":15},
        "encoding":{"x":{"field":"s","type":"nominal"},"y":{"field":"min","type":"quantitative"},"color":{"field":"s","type":"nominal","legend":null}}},
       {"data":{"name":"boxD"},"mark":{"type":"tick","thickness":4.5,"size":22},
        "encoding":{"x":{"field":"s","type":"nominal"},"y":{"field":"med","type":"quantitative"},"color":{"field":"s","type":"nominal","legend":null}}}
      ]
     }
    ]
   },
   {
    "spacing":3,
    "resolve":{"scale":{"x":"independent","y":"independent","stroke":"independent","fill":"independent","color":"independent"}},
    "hconcat":[
     {
      "width":436,"height":318,
      "title":{"text":"Temperature change west Africa June-August"},
      "resolve":{"axis":{"x":"independent","y":"independent"}},
      "layer":[
       {"data":{"name":"histJ"},"mark":{"type":"area","color":"#8e8e8e"},
        "encoding":{
         "x":{"field":"x","type":"quantitative","scale":{"domain":[1900,2100],"nice":false,"zero":false},"axis":{"orient":"bottom","values":[1900,1950,2000,2050,2100],"format":"d","tickSize":-10,"labelPadding":14,"title":null,"labelFlush":false}},
         "y":{"field":"l","type":"quantitative","scale":{"domain":[-4,8],"nice":false,"zero":false},"axis":{"orient":"left","values":[-4,-2,0,2,4,6,8],"tickSize":-10,"labelPadding":20,"title":"[Celsius]","titlePadding":14}},
         "y2":{"field":"h"}}},
       {"data":{"name":"bandJ"},"mark":{"type":"area","opacity":0.82},
        "encoding":{
         "x":{"field":"x","type":"quantitative","axis":null},
         "y":{"field":"l","type":"quantitative","axis":null},
         "y2":{"field":"h"},
         "fill":{"field":"s","type":"nominal","scale":{"domain":["RCP8.5","RCP6.0","RCP4.5","RCP2.6"],"range":["#ef6a5e","#f39a56","#9cc0e6","#3f68b3"]},"legend":null}}},
       {"data":{"values":[{}]},"mark":{"type":"rule","strokeDash":[2,2],"color":"#222","strokeWidth":1.2},
        "encoding":{
         "x":{"datum":2026,"type":"quantitative","axis":{"orient":"top","values":[1950,2000,2050],"labels":false,"tickSize":-10,"title":null}},
         "x2":{"datum":2100},
         "y":{"datum":0,"type":"quantitative","axis":{"orient":"right","values":[-4,-2,0,2,4,6,8],"tickSize":8,"labelPadding":8,"title":null}}}},
       {"data":{"name":"meanJ"},"mark":{"type":"line","strokeWidth":3},
        "encoding":{
         "x":{"field":"x","type":"quantitative","axis":null},
         "y":{"field":"y","type":"quantitative","axis":null},
         "stroke":{"field":"s","type":"nominal","scale":{"domain":["RCP8.5","RCP6.0","RCP4.5","RCP2.6","historical"],"range":["#e3262d","#ee8a3f","#92b9e2","#2f5aa8","#000000"]},
          "legend":{"orient":"none","legendX":144,"legendY":14,"direction":"vertical","title":null,"symbolType":"M-4.8,0H4.8","symbolSize":100,"symbolStrokeWidth":3.5,"symbolOpacity":1,"labelAlign":"right","labelOffset":-45,"labelFont":"Liberation Sans","labelFontSize":17.5,"labelColor":"#111","rowPadding":-2.5}}}}
      ]
     },
     {
      "width":120,"height":318,
      "title":{"text":" "},
      "view":{"stroke":null},
      "layer":[
       {"data":{"values":[{}]},"mark":{"type":"rule","strokeDash":[2,2],"color":"#333","strokeWidth":1.2},
        "encoding":{"y":{"datum":0,"type":"quantitative","scale":{"domain":[-4,8],"nice":false,"zero":false},"axis":null}}},
       {"data":{"name":"boxJ"},"mark":{"type":"rule","strokeWidth":3},
        "encoding":{
         "x":{"field":"s","type":"nominal","scale":{"type":"point","domain":["RCP2.6","RCP4.5","RCP6.0","RCP8.5"],"padding":0.87},"axis":{"labels":false,"ticks":false,"domain":false,"title":"2081-2100 mean","titlePadding":8,"titleFontSize":17}},
         "y":{"field":"q3","type":"quantitative","axis":null},"y2":{"field":"max"},
         "color":{"field":"s","type":"nominal","scale":{"domain":["RCP2.6","RCP4.5","RCP6.0","RCP8.5"],"range":["#1f4e9a","#86b2e0","#f0892f","#e1242f"]},"legend":null}}},
       {"data":{"name":"boxJ"},"mark":{"type":"rule","strokeWidth":3},
        "encoding":{"x":{"field":"s","type":"nominal"},"y":{"field":"min","type":"quantitative"},"y2":{"field":"q1"},"color":{"field":"s","type":"nominal","legend":null}}},
       {"data":{"name":"boxJ"},"mark":{"type":"bar","filled":false,"strokeWidth":3,"width":11},
        "encoding":{"x":{"field":"s","type":"nominal"},"y":{"field":"q1","type":"quantitative"},"y2":{"field":"q3"},"color":{"field":"s","type":"nominal","legend":null}}},
       {"data":{"name":"boxJ"},"mark":{"type":"tick","thickness":3.5,"size":15},
        "encoding":{"x":{"field":"s","type":"nominal"},"y":{"field":"max","type":"quantitative"},"color":{"field":"s","type":"nominal","legend":null}}},
       {"data":{"name":"boxJ"},"mark":{"type":"tick","thickness":3.5,"size":15},
        "encoding":{"x":{"field":"s","type":"nominal"},"y":{"field":"min","type":"quantitative"},"color":{"field":"s","type":"nominal","legend":null}}},
       {"data":{"name":"boxJ"},"mark":{"type":"tick","thickness":4.5,"size":22},
        "encoding":{"x":{"field":"s","type":"nominal"},"y":{"field":"med","type":"quantitative"},"color":{"field":"s","type":"nominal","legend":null}}}
      ]
     }
    ]
   }
  ]
 },
 {
  "width":300,"height":740,
  "view":{"stroke":null},
  "layer":[
   {"data":{"name":"lines"},"mark":{"type":"text","align":"left","baseline":"alphabetic","font":"DejaVu Sans","fontSize":42,"color":"#111","dx":57},
    "encoding":{
     "x":{"datum":0,"type":"quantitative","scale":{"domain":[0,1],"nice":false,"zero":false},"axis":null},
     "y":{"field":"line","type":"quantitative","scale":{"domain":[-2.656,10.872],"reverse":true,"nice":false,"zero":false},"axis":null},
     "text":{"field":"t"}}},
   {"data":{"values":[{"line":1,"t":"•"}]},"mark":{"type":"text","align":"center","baseline":"alphabetic","font":"DejaVu Sans","fontSize":42,"color":"#111","dx":31},
    "encoding":{"x":{"datum":0,"type":"quantitative"},"y":{"field":"line","type":"quantitative"},"text":{"field":"t"}}},
   {"data":{"values":[{"line":9.355,"t":"DT = +1.5 à +6 °C"}]},"mark":{"type":"text","align":"left","baseline":"alphabetic","font":"Liberation Serif","fontSize":42,"color":"#111"},
    "encoding":{"x":{"datum":0,"type":"quantitative"},"y":{"field":"line","type":"quantitative"},"text":{"field":"t"}}}
  ]
 }
]
}
